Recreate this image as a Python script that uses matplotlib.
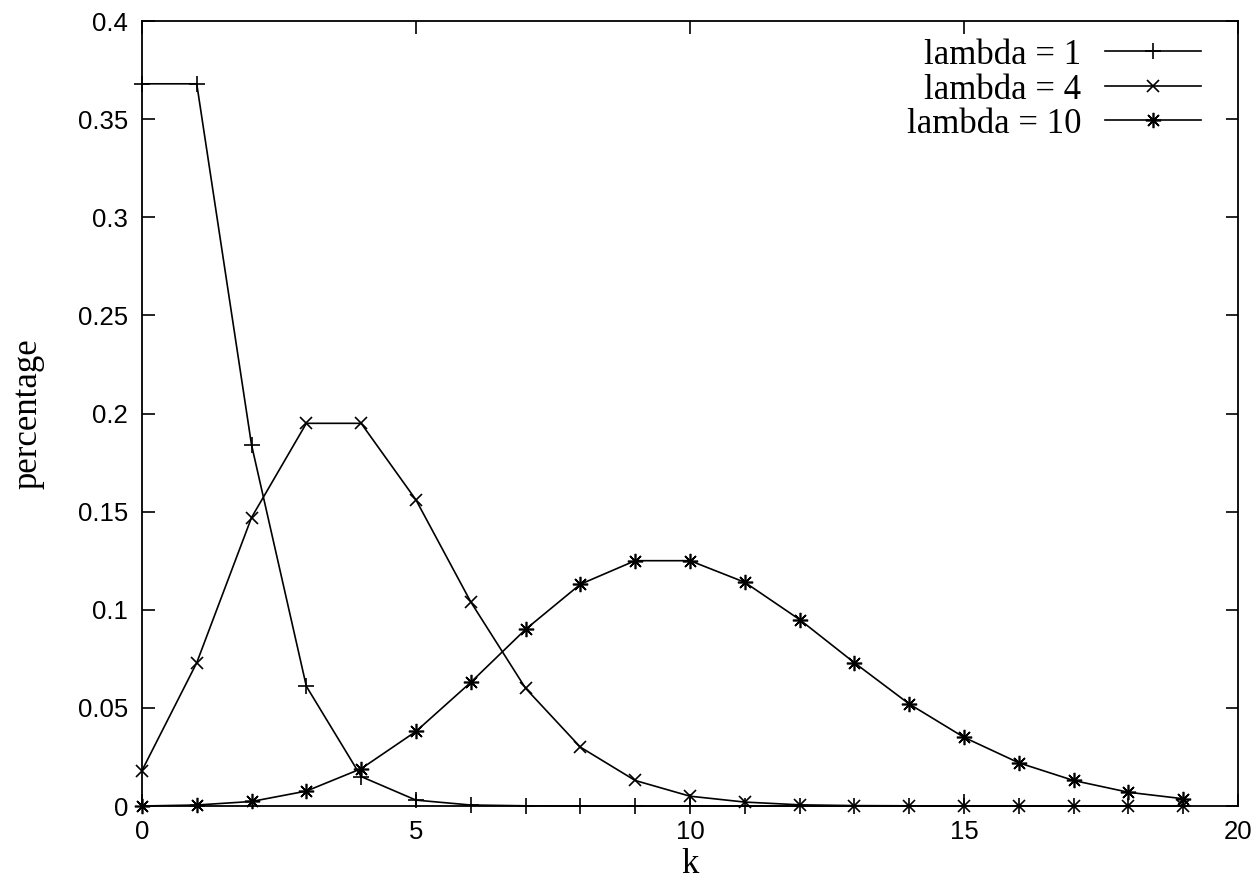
import matplotlib
matplotlib.use("Agg")
import matplotlib.pyplot as plt
from matplotlib.lines import Line2D
from matplotlib.ticker import FormatStrFormatter

# values
k = list(range(20))
lambda_1 = [0.368, 0.368, 0.184, 0.061, 0.015, 0.003, 0.0005, 0.0001, 0, 0,
            0, 0, 0, 0, 0, 0, 0, 0, 0, 0]
lambda_4 = [0.018, 0.073, 0.147, 0.195, 0.195, 0.156, 0.104, 0.060, 0.030, 0.013,
            0.005, 0.002, 0.0006, 0.0002, 0.0001, 0, 0, 0, 0, 0]
lambda_10 = [0.0000, 0.0005, 0.0023, 0.0076, 0.019, 0.038, 0.063, 0.090, 0.113, 0.125,
             0.125, 0.114, 0.095, 0.073, 0.052, 0.035, 0.022, 0.013, 0.007, 0.0037]
labels = ["lambda = 1", "lambda = 4", "lambda = 10"]

x_ticks = [0, 5, 10, 15, 20]
y_ticks = [0, 0.05, 0.1, 0.15, 0.2, 0.25, 0.3, 0.35, 0.4]

serif = ["Liberation Serif", "DejaVu Serif"]
sans = ["Liberation Sans", "DejaVu Sans"]

fig = plt.figure(figsize=(12.56, 8.83), dpi=100)
ax = fig.add_axes([0.113, 0.0872, 0.8727, 0.8890])

styles = [
    dict(marker="+", markersize=12, markeredgewidth=1.2),
    dict(marker="x", markersize=9, markeredgewidth=1.2),
    dict(marker=(8, 2, 0), markersize=11, markeredgewidth=1.2),
]
for ys, st in zip([lambda_1, lambda_4, lambda_10], styles):
    ax.plot(k, ys, color="black", linewidth=1.2, clip_on=False, **st)

ax.set_xlim(0, 20)
ax.set_ylim(0, 0.4)
ax.set_xticks(x_ticks)
ax.set_yticks(y_ticks)
ax.yaxis.set_major_formatter(FormatStrFormatter("%g"))
ax.tick_params(direction="in", length=9, width=1.2, top=True, right=True,
               labelsize=18.5, pad=10)
for t in ax.get_xticklabels() + ax.get_yticklabels():
    t.set_family(sans)
for s in ax.spines.values():
    s.set_linewidth(1.3)

ax.set_xlabel("k", family=serif, fontsize=25, labelpad=3)
ax.set_ylabel("percentage", family=serif, fontsize=25, labelpad=24)

# gnuplot style key: right-aligned text, sample line to the right
row_y = [0.962, 0.917, 0.874]
for lab, st, y in zip(labels, styles, row_y):
    ax.text(0.857, y - 0.006, lab, transform=ax.transAxes, ha="right", va="center",
            family=serif, fontsize=25)
    ax.add_line(Line2D([0.879, 0.966], [y, y], transform=ax.transAxes,
                       color="black", linewidth=1.2))
    ax.add_line(Line2D([0.9225], [y], transform=ax.transAxes, color="black",
                       linestyle="none", **st))

fig.savefig("out.png", dpi=100)
